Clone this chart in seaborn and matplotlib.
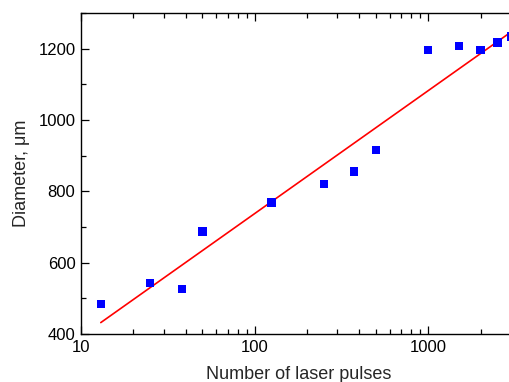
import numpy as np
import pandas as pd
import matplotlib
matplotlib.use("Agg")
import matplotlib.pyplot as plt
import seaborn as sns
from matplotlib.ticker import LogLocator, MultipleLocator, NullFormatter, FixedLocator, FixedFormatter

pulses = [13, 25, 38, 50, 125, 250, 375, 500, 1000, 1500, 2000, 2500, 3000]
diameter = [484, 543, 526, 687, 769, 820, 856, 915, 1197, 1207, 1197, 1217, 1234]
fit_pulses = [13, 3000]
fit_diameter = [432, 1247]
x_ticks = [10, 100, 1000]
x_tick_labels = ["10", "100", "1000"]
y_ticks = [400, 600, 800, 1000, 1200]

sns.set_style("ticks")
plt.rcParams['font.family'] = ['Liberation Sans', 'DejaVu Sans']

df = pd.DataFrame({"pulses": pulses, "diameter": diameter})
fit = pd.DataFrame({"pulses": fit_pulses, "diameter": fit_diameter})

fig = plt.figure(figsize=(5.09, 3.82), dpi=100)
W, H = 509, 382
left_px, right_px, top_px, bottom_px = 81, 516, 13, 334
ax = fig.add_axes([left_px / W, (H - bottom_px) / H, (right_px - left_px) / W, (bottom_px - top_px) / H])

sns.lineplot(data=fit, x="pulses", y="diameter", color="#ff0000", linewidth=1.2, ax=ax, zorder=2)
sns.scatterplot(data=df, x="pulses", y="diameter", marker="s", color="#0000ff", s=36,
                edgecolor="none", linewidth=0, ax=ax, zorder=3)

ax.set_xscale("log")
ax.set_xlim(10, 3200)
ax.set_ylim(400, 1300)

ax.xaxis.set_major_locator(FixedLocator(x_ticks))
ax.xaxis.set_major_formatter(FixedFormatter(x_tick_labels))
ax.xaxis.set_minor_locator(LogLocator(base=10, subs=np.arange(2, 10)))
ax.xaxis.set_minor_formatter(NullFormatter())
ax.yaxis.set_major_locator(FixedLocator(y_ticks))
ax.yaxis.set_minor_locator(MultipleLocator(100))

ax.tick_params(which="both", direction="in", top=True, right=False, labelsize=12, width=0.9, colors="black")
ax.tick_params(which="major", length=6, pad=4)
ax.tick_params(which="minor", length=3.5)

for s in ["left", "bottom", "top"]:
    ax.spines[s].set_linewidth(1.0)
    ax.spines[s].set_color("black")
ax.spines["right"].set_visible(False)

ax.set_xlabel("Number of laser pulses", fontsize=13, labelpad=8)
ax.set_ylabel("Diameter, μm", fontsize=13, labelpad=6)

fig.savefig("out.png", dpi=100)
